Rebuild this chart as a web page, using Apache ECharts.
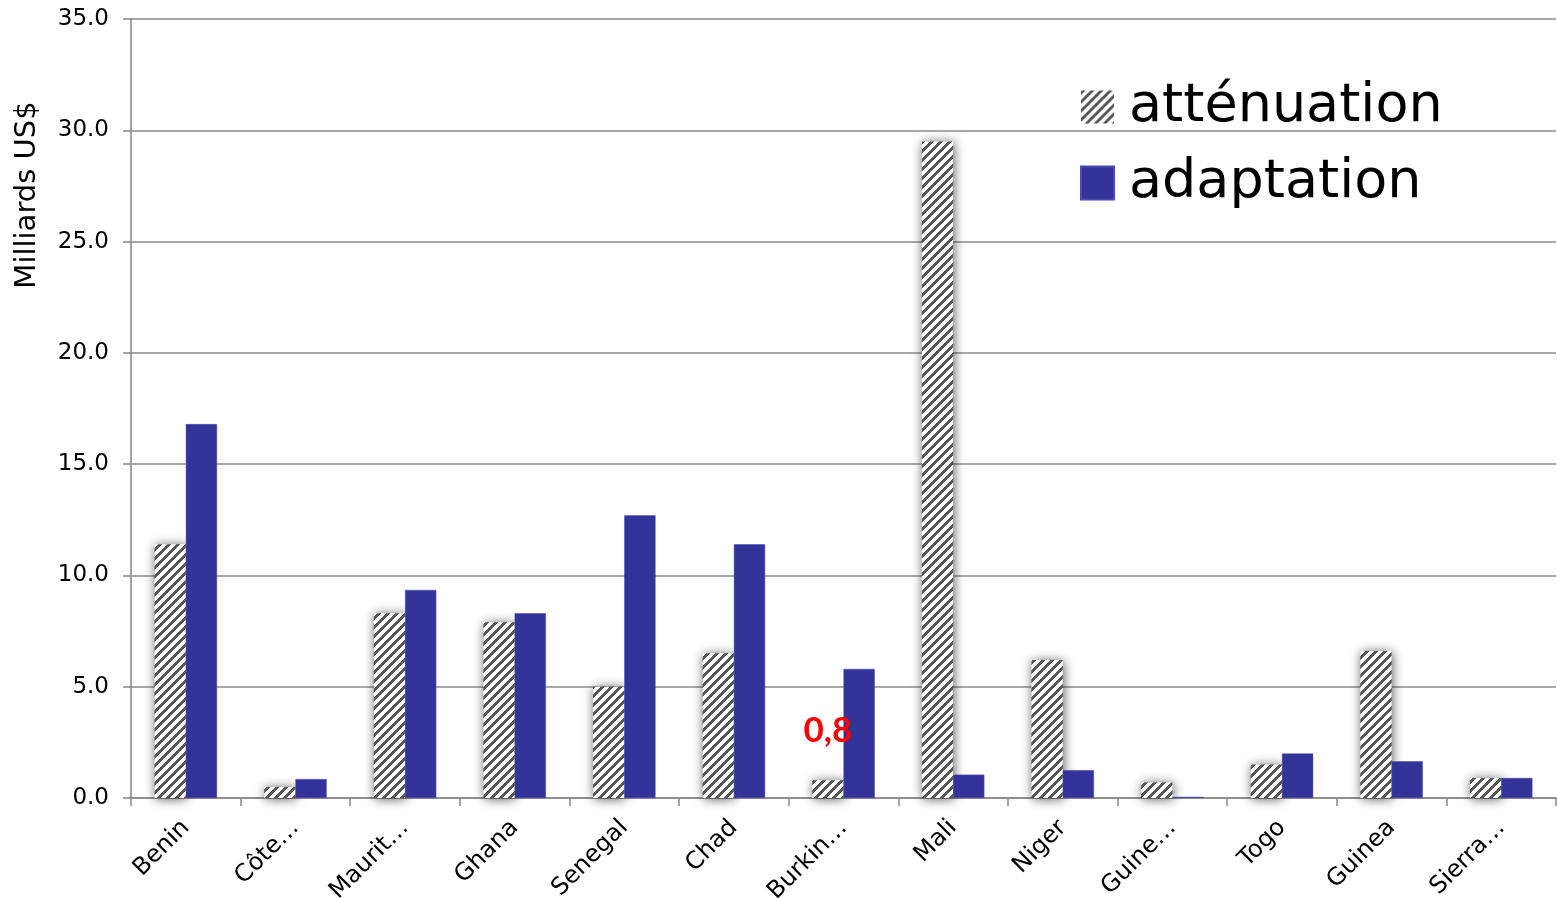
<!DOCTYPE html>
<html><head><meta charset="utf-8">
<script src="https://cdn.jsdelivr.net/npm/echarts@6/dist/echarts.min.js"></script>
<style>html,body{margin:0;padding:0;background:#fff}#c{width:1557px;height:898px}</style>
</head><body><div id="c"></div>
<script>
const categories = ['Benin','Côte…','Maurit…','Ghana','Senegal','Chad','Burkin…','Mali','Niger','Guine…','Togo','Guinea','Sierra…'];
const attenuation = [11.4, 0.5, 8.3, 7.9, 5.0, 6.5, 0.8, 29.5, 6.2, 0.7, 1.5, 6.6, 0.9];
const adaptation  = [16.8, 0.85, 9.35, 8.3, 12.7, 11.4, 5.8, 1.05, 1.25, 0.05, 2.0, 1.65, 0.9];
const seriesNames = ['atténuation', 'adaptation'];
const highlightIndex = 6;
const highlightText = '0,8';
const yAxisTitle = 'Milliards US$';

function makeHatch(){
  const P = 9;
  const c = document.createElement('canvas'); c.width = P; c.height = P;
  const ctx = c.getContext('2d');
  ctx.fillStyle = '#ffffff'; ctx.fillRect(0,0,P,P);
  ctx.fillStyle = '#575757';
  for (let x=0;x<P;x++) for (let y=0;y<P;y++) if (((x+y)%P) < 4) ctx.fillRect(x,y,1,1);
  return c;
}
const hatch = makeHatch();
const FONT = '"DejaVu Sans", sans-serif';

const chart = echarts.init(document.getElementById('c'), null, {renderer:'canvas'});
chart.setOption({
  animation: false,
  backgroundColor: '#ffffff',
  grid: {left:131, right:1, top:19, bottom:100, outerBoundsMode:'none'},
  legend: {
    orient:'vertical', left:1080, top:73, padding:0,
    itemWidth:33, itemHeight:33, itemGap:8, icon:'rect',
    selectedMode:false,
    itemStyle:{shadowBlur:0, shadowColor:'transparent'},
    textStyle:{fontFamily:FONT, fontSize:54, color:'#000', lineHeight:60, padding:[8,0,0,10]},
    data: seriesNames
  },
  xAxis: {
    type:'category', data:categories,
    axisLine:{lineStyle:{color:'#868686', width:1.5}},
    axisTick:{show:true, length:8, lineStyle:{color:'#868686', width:1.5}},
    axisLabel:{rotate:45, interval:0, fontFamily:FONT, fontSize:24, color:'#000', margin:26}
  },
  yAxis: {
    type:'value', min:0, max:35, interval:5,
    axisLine:{show:true, lineStyle:{color:'#868686', width:1.5}},
    axisTick:{show:true, length:8, lineStyle:{color:'#868686', width:1.5}},
    axisLabel:{formatter:v=>v.toFixed(1), fontFamily:FONT, fontSize:23, color:'#000', margin:22},
    splitLine:{lineStyle:{color:'#8c8c8c', width:1.5}}
  },
  graphic:[{
    type:'text', x:27, y:195, rotation:Math.PI/2,
    style:{text:yAxisTitle, fontFamily:FONT, fontSize:29, fill:'#000',
      align:'center', verticalAlign:'middle', textAlign:'center', textVerticalAlign:'middle'}
  }],
  series: [
    {
      name:seriesNames[0], type:'bar', barGap:'0%', barCategoryGap:'43%',
      emphasis:{disabled:true},
      itemStyle:{color:{image:hatch, repeat:'repeat'}, shadowBlur:11, shadowColor:'rgba(0,0,0,0.65)', shadowOffsetX:1, shadowOffsetY:1},
      data: attenuation.map((v,i)=> i===highlightIndex ? {
        value:v,
        label:{show:true, position:'top', distance:32, formatter:highlightText,
          fontFamily:'Lato, sans-serif', fontWeight:'bold', fontSize:35, color:'#ff0000'}
      } : v)
    },
    {
      name:seriesNames[1], type:'bar', barGap:'0%', barCategoryGap:'43%',
      emphasis:{disabled:true},
      itemStyle:{color:'#333399', borderColor:'#4a4ab0', borderWidth:0.5},
      data: adaptation
    }
  ]
});
</script>
</body></html>
